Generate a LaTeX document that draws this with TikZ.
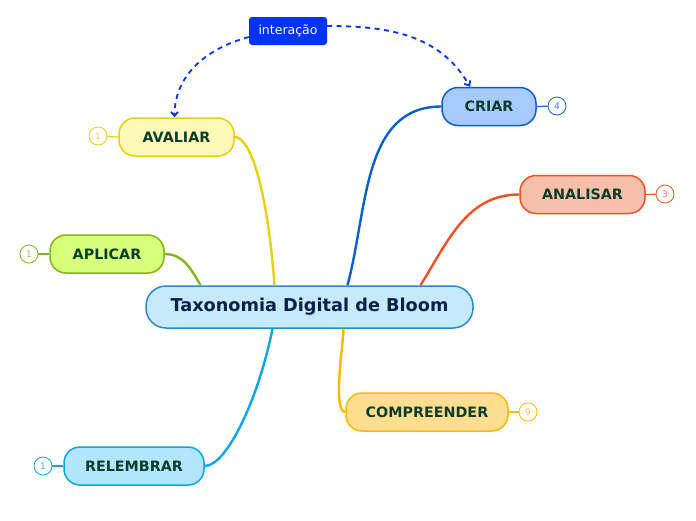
\documentclass[tikz,border=0pt]{standalone}
\usepackage{fontspec}
\setmainfont{DejaVu Sans}
\usetikzlibrary{arrows.meta, calc}

\definecolor{rootfill}{HTML}{C5EAFB}
\definecolor{rootdraw}{HTML}{2A8AD0}
\definecolor{roottext}{HTML}{0B1F4B}
\definecolor{leaftext}{HTML}{0B3D2A}
\definecolor{linkblue}{HTML}{0033FF}
\definecolor{criardraw}{HTML}{0A5FD0}
\definecolor{criarfill}{HTML}{A8CBFF}
\definecolor{avaliardraw}{HTML}{E8D00C}
\definecolor{avaliarfill}{HTML}{FFF9B8}
\definecolor{analisardraw}{HTML}{F25022}
\definecolor{analisarfill}{HTML}{F8BFAA}
\definecolor{aplicardraw}{HTML}{80B80C}
\definecolor{aplicarfill}{HTML}{D6FF7A}
\definecolor{comprdraw}{HTML}{FFB800}
\definecolor{comprfill}{HTML}{FFDE8F}
\definecolor{relembrardraw}{HTML}{0AA6E6}
\definecolor{relembrarfill}{HTML}{B3E5FC}

\begin{document}
\begin{tikzpicture}[x = 1pt, y = -1pt]
  \tikzset{>=latex,
    branch/.style = {draw = #1draw, fill = #1fill, line width = 1.5pt, rounded corners = 16pt,
      minimum height = 38pt, inner xsep = 0pt, font = \bfseries\fontsize{14.3}{16}\selectfont, text = leaftext},
    count/.style = {draw = #1draw, circle, line width = 0.8pt, minimum size = 18pt, inner sep = 0pt,
      text = #1draw!80, font = \fontsize{9}{10}\selectfont, fill = white},
    edge/.style = {draw = #1draw, line width = 2.4pt},
    tick/.style = {draw = #1draw, line width = 1.2pt},
    link/.style = {draw = linkblue, line width = 1.8pt, dash pattern = on 5pt off 4.5pt, -{Straight Barb[length = 4pt, width = 7pt]}}}

  \useasboundingbox (0,0) rectangle (696,520);

  % central topic
  \node[draw = rootdraw, fill = rootfill, line width = 1.5pt, rounded corners = 20pt, minimum width = 327pt, minimum height = 42pt,
    font = \bfseries\fontsize{17.7}{20}\selectfont, text = roottext] (root) at (309.5,307) {Taxonomia Digital de Bloom};

  % branches
  \node[branch = criar, minimum width = 94pt] (criar) at (489,106.5) {CRIAR};
  \node[branch = avaliar, minimum width = 115pt] (avaliar) at (176.5,137) {AVALIAR};
  \node[branch = analisar, minimum width = 125pt] (analisar) at (582.5,194.5) {ANALISAR};
  \node[branch = aplicar, minimum width = 114pt] (aplicar) at (107,254) {APLICAR};
  \node[branch = compr, minimum width = 162pt] (compreender) at (427,412) {COMPREENDER};
  \node[branch = relembrar, minimum width = 140pt] (relembrar) at (134,466) {RELEMBRAR};

  % counters
  \node[count = criar] (ncriar) at (557,106) {4};
  \node[count = avaliar] (navaliar) at (98,136) {1};
  \node[count = analisar] (nanalisar) at (665,194) {3};
  \node[count = aplicar] (naplicar) at (29,254) {1};
  \node[count = compr] (ncompreender) at (528,412) {9};
  \node[count = relembrar] (nrelembrar) at (43,466) {1};

  \draw[tick = criar] (criar.east) -- (ncriar);
  \draw[tick = avaliar] (avaliar.west) -- (navaliar);
  \draw[tick = analisar] (analisar.east) -- (nanalisar);
  \draw[tick = aplicar] (aplicar.west) -- (naplicar);
  \draw[tick = compr] (compreender.east) -- (ncompreender);
  \draw[tick = relembrar] (relembrar.west) -- (nrelembrar);

  % connectors
  \draw[edge = avaliar] (avaliar.east) .. controls +(14,0) and +(-8,-105) .. ([xshift = -35]root.north);
  \draw[edge = aplicar] (aplicar.east) to[out = 0, in = 120] ([xshift = -109]root.north);
  \draw[edge = criar] ([xshift = 38]root.north) to[out = 75, in = 180] (criar.west);
  \draw[edge = analisar] ([xshift = 111]root.north) to[out = 58, in = 180] (analisar.west);
  \draw[edge = compr] ([xshift = 34]root.south) to[out = -90, in = 180, looseness = 0.4] (compreender.west);
  \draw[edge = relembrar] ([xshift = -37]root.south) .. controls +(-14,70) and +(22,0) .. (relembrar.east);

  % relation
  \node[fill = linkblue, rounded corners = 3pt, minimum width = 78pt, minimum height = 28pt, text = white,
    font = \fontsize{12.5}{14}\selectfont] (interacao) at (288,31) {interação};
  \draw[link] ([yshift = -6]interacao.west) to[out = 195, in = 90] ([xshift = -2]avaliar.north);
  \draw[link] ([yshift = 5]interacao.east) to[out = 0, in = 120] ([xshift = -19]criar.north);
\end{tikzpicture}
\end{document}
